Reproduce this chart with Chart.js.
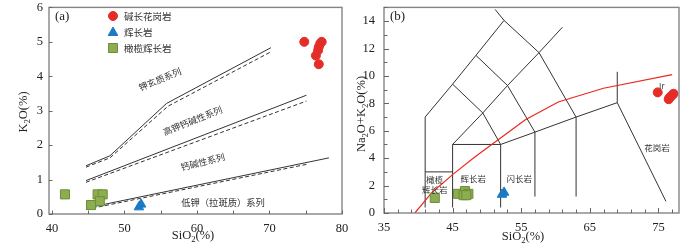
<!DOCTYPE html>
<html><head><meta charset="utf-8">
<script src="https://cdn.jsdelivr.net/npm/chart.js@4.4.1/dist/chart.umd.min.js"></script>
<style>
body{margin:0;background:#fff;width:700px;height:244px;overflow:hidden;position:relative}
.box{position:absolute;top:0;width:350px;height:244px}
</style></head><body>
<div class="box" style="left:0"><canvas id="ca" width="350" height="244"></canvas></div>
<div class="box" style="left:350px"><canvas id="cb" width="350" height="244"></canvas></div>
<script>
// ---------- DATA ----------
// Panel (a): SiO2 vs K2O
const graniteSiO2A = [74.8, 77.2, 77.0, 76.8, 76.7, 76.4, 76.8];
const graniteK2O   = [5.0, 5.0, 4.95, 4.85, 4.75, 4.6, 4.35];
const gabbroSiO2A  = [52.0, 52.3];
const gabbroK2O    = [0.2, 0.28];
const olGabSiO2A   = [41.8, 46.3, 47.0, 46.6, 45.4];
const olGabK2O     = [0.57, 0.57, 0.57, 0.37, 0.26];
// series boundary lines (solid & dashed)
const shoSolid = [[44.7,1.4],[48,1.69],[55.8,3.21],[70.2,4.83]];
const shoDash  = [[44.7,1.36],[48,1.63],[56,3.13],[70.2,4.71]];
const hkSolid  = [[44.7,0.97],[75.1,3.45]];
const hkDash   = [[44.7,0.92],[75.1,3.28]];
const lkSolid  = [[44.7,0.17],[78.2,1.63]];
const lkDash   = [[44.7,0.13],[75.3,1.45]];
// Panel (b): TAS
const graniteSiO2B = [74.9, 76.8, 77.2, 76.5, 77.0, 76.6];
const graniteAlk   = [8.8, 8.5, 8.7, 8.3, 8.6, 8.4];
const gabbroSiO2B  = [52.5, 52.2];
const gabbroAlk    = [1.5, 1.35];
const olGabSiO2B   = [42.4, 45.8, 46.8, 47.3, 46.6, 47.0];
const olGabAlk     = [1.1, 1.4, 1.6, 1.4, 1.3, 1.3];
// TAS field boundaries
const tasLines = [
  [[41,0.4],[41,7],[45,9.4],[48.4,11.5],[52.5,14.05]],
  [[51.2,14.85],[52.5,14.05],[57.6,11.7],[63,7]],
  [[45,9.4],[49.4,7.3],[52,5]],
  [[48.4,11.5],[53,9.3],[57,5.9]],
  [[45,5],[49.4,7.3],[53,9.3],[57.6,11.7],[61,13.55]],
  [[41,3],[45,3]],
  [[45,0.4],[45,5],[52,5],[57,5.9],[63,7],[69,8.05],[76.1,0.85]],
  [[52,0.4],[52,5]],
  [[57,1.2],[57,5.9]],
  [[63,1.2],[63,7]],
  [[69,8.05],[69,10.3]]
];
const irvineLine = [[39.5,0],[42,1.5],[45,2.8],[48,4.0],[51,5.1],[55.6,6.8],[60.4,8.1],[67,9.1],[77,10.1]];

// ---------- helpers ----------
const toXY = (xs, ys) => xs.map((x, i) => ({x, y: ys[i]}));
const pairs = arr => arr.map(([x, y]) => ({x, y}));
const RED = '#e52d27', BLUE = '#1b7ac3', GREEN = '#8cae50', GREENB = '#6d8d38';
const SERIF = "'Liberation Serif','Times New Roman',serif";
const CJK = "'Noto Sans CJK SC','Liberation Serif',sans-serif";

const lineDS = (pts, dash, color, w) => ({
  data: pairs(pts), showLine: true, borderColor: color || '#333', borderWidth: w || 1,
  borderDash: dash ? [4, 2.5] : [], pointRadius: 0, fill: false, tension: 0
});

function drawSubText(ctx, parts, x, y, size, rot) {
  ctx.save();
  ctx.translate(x, y);
  if (rot) ctx.rotate(rot);
  let total = 0;
  parts.forEach(p => { ctx.font = (p.sub ? size * 0.7 : size) + 'px ' + SERIF; total += ctx.measureText(p.t).width; });
  let cx = -total / 2;
  ctx.textBaseline = 'middle'; ctx.textAlign = 'left'; ctx.fillStyle = '#222';
  parts.forEach(p => {
    ctx.font = (p.sub ? size * 0.7 : size) + 'px ' + SERIF;
    ctx.fillText(p.t, cx, p.sub ? size * 0.3 : 0);
    cx += ctx.measureText(p.t).width;
  });
  ctx.restore();
}

const decor = {
  id: 'decor',
  afterDatasetsDraw(chart, args, o) {
    const {ctx, chartArea: a, scales: {x: xs, y: ys}} = chart;
    ctx.save();
    // frame
    ctx.strokeStyle = '#858585'; ctx.lineWidth = 1.4;
    ctx.strokeRect(a.left, a.top, a.right - a.left, a.bottom - a.top);
    // inward ticks
    ctx.lineWidth = 1; ctx.strokeStyle = '#666';
    ctx.beginPath();
    for (let v = o.xStart; v <= xs.max + 1e-9; v += o.xStep) {
      if (v < xs.min) continue;
      const p = Math.round(xs.getPixelForValue(v)) + 0.5;
      const len = o.xMajor && Math.abs(((v - o.xStart) % o.xMajor)) < 1e-6 ? 5 : 3.5;
      ctx.moveTo(p, a.bottom); ctx.lineTo(p, a.bottom - len);
    }
    for (let v = o.yStart; v <= ys.max + 1e-9; v += o.yStep) {
      const p = Math.round(ys.getPixelForValue(v)) + 0.5;
      const len = o.yMajor && Math.abs((v % o.yMajor)) < 1e-6 ? 5 : 3.5;
      ctx.moveTo(a.left, p); ctx.lineTo(a.left + len, p);
    }
    ctx.stroke();
    // text labels at data coordinates
    (o.labels || []).forEach(l => {
      ctx.save();
      ctx.translate(xs.getPixelForValue(l.x), ys.getPixelForValue(l.y));
      if (l.rot) ctx.rotate(l.rot * Math.PI / 180);
      ctx.font = l.size + 'px ' + CJK;
      ctx.fillStyle = '#333'; ctx.textAlign = 'center'; ctx.textBaseline = 'middle';
      ctx.fillText(l.t, 0, 0);
      ctx.restore();
    });
    // panel tag
    ctx.font = '13px ' + SERIF; ctx.fillStyle = '#222'; ctx.textAlign = 'left'; ctx.textBaseline = 'middle';
    ctx.fillText(o.tag, a.left + 6, a.top + 9);
    // axis titles
    drawSubText(ctx, o.xTitle, o.xTitlePos[0], o.xTitlePos[1], 12.5, 0);
    drawSubText(ctx, o.yTitle, o.yTitlePos[0], o.yTitlePos[1], 12.5, -Math.PI / 2);
    // legend
    if (o.legend) {
      o.legend.forEach((it, i) => {
        const cx = o.legendPos[0], cy = o.legendPos[1] + i * 16;
        ctx.fillStyle = it.c; ctx.strokeStyle = it.b || it.c; ctx.lineWidth = 1;
        ctx.beginPath();
        if (it.s === 'circle') ctx.arc(cx, cy, 4.5, 0, Math.PI * 2);
        else if (it.s === 'triangle') { ctx.moveTo(cx, cy - 5); ctx.lineTo(cx + 4.8, cy + 3.5); ctx.lineTo(cx - 4.8, cy + 3.5); ctx.closePath(); }
        else ctx.rect(cx - 4.5, cy - 4.5, 9, 9);
        ctx.fill(); ctx.stroke();
        ctx.font = '9.5px ' + CJK; ctx.fillStyle = '#333'; ctx.textAlign = 'left'; ctx.textBaseline = 'middle';
        ctx.fillText(it.t, cx + 11, cy);
      });
    }
    ctx.restore();
  }
};

function pointsDS(data, style, color, border, r) {
  return { data, pointStyle: style, pointRadius: r, backgroundColor: color, borderColor: border || color,
           borderWidth: 1, showLine: false };
}

function baseOptions(cfg) {
  return {
    responsive: false, animation: false, events: [],
    layout: { padding: cfg.pad },
    plugins: { legend: { display: false }, tooltip: { enabled: false }, decor: cfg.decor },
    scales: {
      x: {
        type: 'linear', min: cfg.xMin, max: cfg.xMax,
        grid: { display: false, drawTicks: false }, border: { display: false },
        ticks: { stepSize: cfg.xStepLbl, includeBounds: false, padding: cfg.xPadTick, color: '#222',
                 font: { family: SERIF, size: 12.5 }, maxRotation: 0, autoSkip: false,
                 callback: cfg.xCb },
        afterFit(s) { s.height = cfg.xH; s.paddingLeft = 0; s.paddingRight = 0; }
      },
      y: {
        type: 'linear', min: cfg.yMin, max: cfg.yMax,
        grid: { display: false, drawTicks: false }, border: { display: false },
        ticks: { stepSize: cfg.yStepLbl, includeBounds: false, padding: cfg.yPadTick, color: '#222',
                 font: { family: SERIF, size: 12.5 }, autoSkip: false },
        afterFit(s) { s.width = cfg.yW; s.paddingTop = 0; s.paddingBottom = 0; }
      }
    }
  };
}

// ---------- Chart (a) ----------
new Chart(document.getElementById('ca'), {
  type: 'scatter',
  plugins: [decor],
  data: { datasets: [
    pointsDS(toXY(graniteSiO2A, graniteK2O), 'circle', RED, RED, 4.5),
    pointsDS(toXY(gabbroSiO2A, gabbroK2O), 'triangle', BLUE, BLUE, 5.5),
    pointsDS(toXY(olGabSiO2A, olGabK2O), 'rect', GREEN, GREENB, 6.4),
    lineDS(shoSolid), lineDS(shoDash, true),
    lineDS(hkSolid), lineDS(hkDash, true),
    lineDS(lkSolid), lineDS(lkDash, true)
  ]},
  options: baseOptions({
    pad: { left: 0, right: 8, top: 4, bottom: 0 },
    xMin: 39.6, xMax: 80, xStepLbl: 10, xH: 30, xPadTick: 7,
    yMin: 0, yMax: 6, yStepLbl: 1, yW: 49, yPadTick: 6,
    decor: {
      tag: '(a)', xStart: 40, xStep: 5, yStart: 0, yStep: 1,
      xTitle: [{t:'SiO'},{t:'2',sub:true},{t:'(%)'}], xTitlePos: [193, 236],
      yTitle: [{t:'K'},{t:'2',sub:true},{t:'O(%)'}], yTitlePos: [24, 112],
      labels: [
        { t: '钾玄质系列', x: 54.9, y: 3.91, rot: -23, size: 9 },
        { t: '高钾钙碱性系列', x: 59.4, y: 2.71, rot: -22, size: 9 },
        { t: '钙碱性系列', x: 60.8, y: 1.51, rot: -14, size: 9 },
        { t: '低钾（拉斑质）系列', x: 63.6, y: 0.34, rot: 0, size: 9.3 }
      ],
      legend: [
        { s: 'circle', c: RED, t: '碱长花岗岩' },
        { s: 'triangle', c: BLUE, t: '辉长岩' },
        { s: 'rect', c: GREEN, b: GREENB, t: '橄榄辉长岩' }
      ],
      legendPos: [113, 16]
    }
  })
});

// ---------- Chart (b) ----------
const tasDS = tasLines.map(l => lineDS(l, false, '#333', 1));
new Chart(document.getElementById('cb'), {
  type: 'scatter',
  plugins: [decor],
  data: { datasets: [
    pointsDS(toXY(graniteSiO2B, graniteAlk), 'circle', RED, RED, 4.5),
    pointsDS(toXY(gabbroSiO2B, gabbroAlk), 'triangle', BLUE, BLUE, 5.5),
    pointsDS(toXY(olGabSiO2B, olGabAlk), 'rect', GREEN, GREENB, 6.4),
    lineDS(irvineLine, false, '#e8291f', 1.2),
    ...tasDS
  ]},
  options: baseOptions({
    pad: { left: 0, right: 21, top: 3, bottom: 0 },
    xMin: 35, xMax: 78, xStepLbl: 5, xH: 31, xPadTick: 7,
    xCb: v => ((v - 35) % 10 === 0 ? String(v) : ''),
    yMin: 0, yMax: 15, yStepLbl: 2, yW: 34, yPadTick: 9,
    decor: {
      tag: '(b)', xStart: 35, xStep: 2, xMajor: 10, yStart: 0, yStep: 1, yMajor: 2,
      xTitle: [{t:'SiO'},{t:'2',sub:true},{t:'(%)'}], xTitlePos: [173, 237],
      yTitle: [{t:'Na'},{t:'2',sub:true},{t:'O+K'},{t:'2',sub:true},{t:'O(%)'}], yTitlePos: [12, 114],
      labels: [
        { t: '橄榄', x: 42.4, y: 2.45, size: 8.5 },
        { t: '辉长岩', x: 42.4, y: 1.72, size: 8.5 },
        { t: '辉长岩', x: 48.0, y: 2.5, size: 8.5 },
        { t: '闪长岩', x: 54.7, y: 2.5, size: 8.5 },
        { t: '花岗岩', x: 74.8, y: 4.74, size: 8.5 },
        { t: 'Ir', x: 75.5, y: 9.25, size: 8 }
      ]
    }
  })
});
</script>
</body></html>
